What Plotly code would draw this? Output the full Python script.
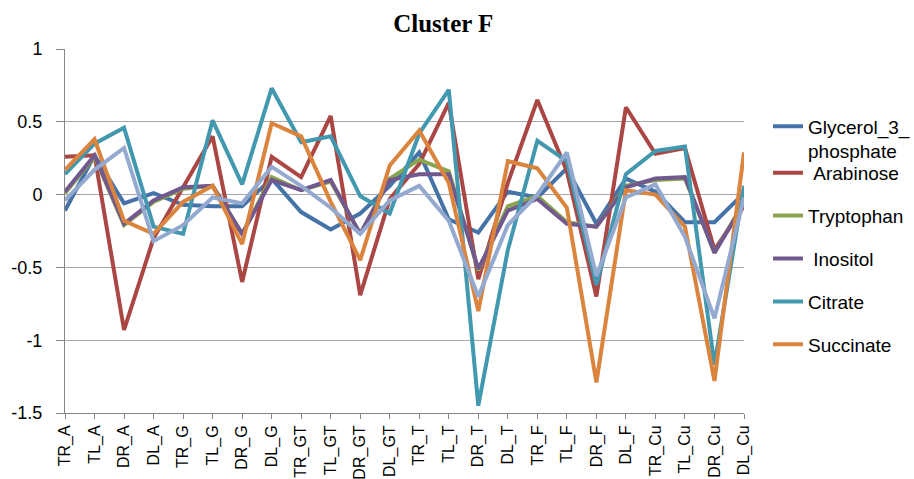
import plotly.graph_objects as go

# Sample categories along the x axis
categories = ["TR_A", "TL_A", "DR_A", "DL_A", "TR_G", "TL_G", "DR_G", "DL_G",
              "TR_GT", "TL_GT", "DR_GT", "DL_GT", "TR_T", "TL_T", "DR_T", "DL_T",
              "TR_F", "TL_F", "DR_F", "DL_F", "TR_Cu", "TL_Cu", "DR_Cu", "DL_Cu"]

glycerol_3_phosphate = [-0.11, 0.27, -0.06, 0.01, -0.07, -0.08, -0.08, 0.11,
                        -0.12, -0.24, -0.13, 0.06, 0.29, -0.17, -0.26, 0.02,
                        -0.02, 0.18, -0.20, 0.11, 0.02, -0.19, -0.19, 0.01]
arabinose = [0.26, 0.27, -0.93, -0.30, 0.05, 0.40, -0.60, 0.26,
             0.12, 0.54, -0.69, -0.03, 0.21, 0.63, -0.58, 0.08,
             0.65, 0.16, -0.70, 0.60, 0.28, 0.32, -0.38, -0.08]
tryptophan = [0.01, 0.26, -0.21, -0.05, 0.04, 0.06, -0.27, 0.12,
              0.03, 0.09, -0.27, 0.11, 0.24, 0.16, -0.52, -0.08,
              -0.01, -0.19, -0.22, 0.06, 0.10, 0.11, -0.40, -0.05]
inositol = [0.02, 0.27, -0.20, -0.04, 0.05, 0.06, -0.27, 0.10,
            0.03, 0.10, -0.27, 0.10, 0.14, 0.14, -0.51, -0.11,
            -0.03, -0.20, -0.22, 0.05, 0.11, 0.12, -0.40, -0.06]
citrate = [0.14, 0.35, 0.46, -0.22, -0.27, 0.51, 0.07, 0.73,
           0.36, 0.40, -0.01, -0.13, 0.42, 0.72, -1.45, -0.38,
           0.37, 0.23, -0.62, 0.14, 0.30, 0.33, -1.17, 0.06]
succinate = [0.17, 0.38, -0.18, -0.27, -0.05, 0.06, -0.34, 0.49,
             0.40, -0.05, -0.45, 0.20, 0.44, 0.08, -0.80, 0.23,
             0.18, -0.09, -1.29, 0.03, 0.00, -0.22, -1.28, 0.29]
series7 = [-0.04, 0.17, 0.32, -0.32, -0.21, -0.02, -0.06, 0.19,
           0.06, -0.09, -0.27, -0.04, 0.06, -0.18, -0.70, -0.21,
           0.00, 0.29, -0.56, -0.02, 0.07, -0.29, -0.85, -0.02]

y_ticks = [1, 0.5, 0, -0.5, -1, -1.5]
y_tick_labels = ["1", "0.5", "0", "-0.5", "-1", "-1.5"]

SANS = "Liberation Sans, Arial, sans-serif"
LINE_W = 4

fig = go.Figure()

# (values, legend label, colour, legend id)
series = [
    (glycerol_3_phosphate, "Glycerol_3_<br>phosphate", "#4572A7", "legend"),
    (arabinose, "\u00a0Arabinose", "#AA4643", "legend2"),
    (tryptophan, "Tryptophan", "#89A54E", "legend2"),
    (inositol, "\u00a0Inositol", "#71588F", "legend2"),
    (citrate, "Citrate", "#4198AF", "legend2"),
    (succinate, "Succinate", "#DB843D", "legend2"),
]

for i, (vals, label, color, leg) in enumerate(series):
    fig.add_trace(go.Scatter(
        x=list(range(len(categories))), y=vals, mode="lines", name=label,
        line=dict(color=color, width=LINE_W),
        legend=leg, legendgroup=f"g{i}",
    ))

fig.add_trace(go.Scatter(
    x=list(range(len(categories))), y=series7, mode="lines", name="Series7",
    line=dict(color="#93A9CF", width=LINE_W), showlegend=False,
))

fig.update_layout(
    width=914, height=479,
    margin=dict(l=65, r=170, t=49, b=66, autoexpand=False),
    paper_bgcolor="white", plot_bgcolor="white",
    title=dict(text="<b>Cluster F</b>", x=0.485, xref="container", xanchor="center",
               y=1 - 23 / 479, yref="container", yanchor="middle",
               font=dict(family="Liberation Serif, Times New Roman, serif", size=25, color="black")),
    xaxis=dict(
        range=[0, len(categories) - 1], automargin=False,
        tickmode="array", tickvals=list(range(len(categories))), ticktext=categories,
        tickangle=-90, ticks="outside", ticklen=5, tickcolor="#868686",
        showline=True, linecolor="#868686", linewidth=1,
        showgrid=False, zeroline=False,
        tickfont=dict(family=SANS, size=16, color="black"),
    ),
    yaxis=dict(
        range=[-1.5, 1], automargin=False,
        tickmode="array", tickvals=y_ticks, ticktext=y_tick_labels,
        ticks="outside", ticklen=8, tickcolor="#868686",
        showline=True, linecolor="#868686", linewidth=1,
        showgrid=True, gridcolor="#A6A6A6", gridwidth=1, zeroline=False,
        ticklabelstandoff=10,
        tickfont=dict(family=SANS, size=18, color="black"),
    ),
    legend=dict(
        x=(768 - 65) / 679, xanchor="left", y=0.8395, yanchor="top",
        font=dict(family=SANS, size=19, color="black"), valign="top",
        bgcolor="rgba(0,0,0,0)", borderwidth=0,
    ),
    legend2=dict(
        x=(768 - 65) / 679, xanchor="left", y=0.7120, yanchor="top",
        font=dict(family=SANS, size=19, color="black"),
        traceorder="grouped", tracegroupgap=15.2,
        bgcolor="rgba(0,0,0,0)", borderwidth=0,
    ),
    showlegend=True,
)

fig.write_html("out.html")
